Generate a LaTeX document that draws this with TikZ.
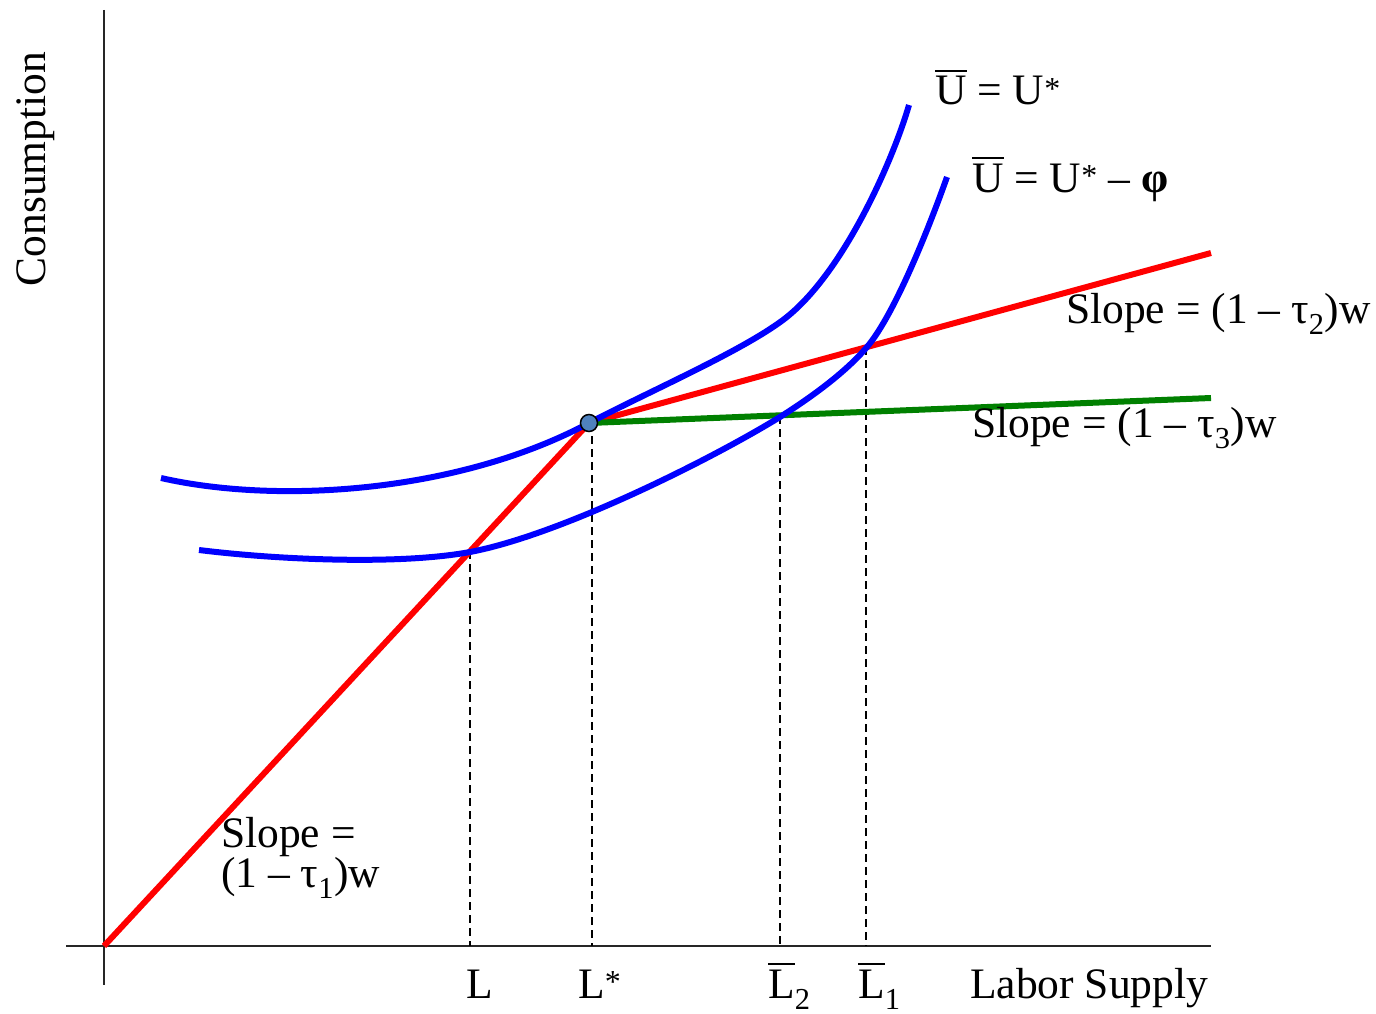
\documentclass[tikz,border=0pt]{standalone}
\usepackage{fontspec}
\setmainfont{Liberation Serif}
\newcommand\ovl[1]{\setbox0=\hbox{#1}\rlap{\rule[0.77em]{\wd0}{0.045em}}\box0\relax}
\newcommand\sstar{\raisebox{0.13em}{\fontsize{32}{32}\selectfont *}}
\begin{document}
\begin{tikzpicture}[x=1pt,y=-1pt,
  lbl/.style={inner sep=0pt,anchor=base west,font=\fontsize{43.5}{48}\selectfont},
  axis/.style={line width=2.2pt,draw=black!85},
  curve/.style={line width=6pt,draw=blue},
  budget/.style={line width=6pt},
  guide/.style={line width=1.8pt,dashed,dash pattern=on 8pt off 5pt}]
\useasboundingbox (0,0) rectangle (1376,1014);
% axes
\coordinate (ytop) at (104,10);
\coordinate (ybot) at (104,985);
\coordinate (xl) at (66,946);
\coordinate (xr) at (1211,946);
\draw[axis] (ytop) -- (ybot);
\draw[axis] (xl) -- (xr);
% key points
\coordinate (O) at (104,946);
\coordinate (E) at (589,423);
\coordinate (R2) at (1211,253);
\coordinate (G3) at (1211,398);
% dashed guides
\coordinate (d1t) at (470,551); \coordinate (d1b) at (470,946);
\coordinate (d2t) at (592,423); \coordinate (d2b) at (592,946);
\coordinate (d3t) at (780,416); \coordinate (d3b) at (780,946);
\coordinate (d4t) at (866,347); \coordinate (d4b) at (866,946);
\draw[guide] (d1t) -- (d1b);
\draw[guide] (d2t) -- (d2b);
\draw[guide] (d3t) -- (d3b);
\draw[guide] (d4t) -- (d4b);
% budget lines
\draw[budget,red] (O) -- (E) -- (R2);
\draw[budget,green!50!black] (E) -- (G3);
% indifference curves
\draw[curve] (161,478) .. controls (280,505) and (460,492) .. (E)
  .. controls (650,391) and (740,352) .. (783,320)
  .. controls (843,275) and (893,160) .. (909,105);
\draw[curve] (199,550) .. controls (280,560) and (400,565) .. (470,552)
  .. controls (560,535) and (710,460) .. (780,417)
  .. controls (810,398) and (845,373) .. (867,347)
  .. controls (895,314) and (930,225) .. (947,177);
% equilibrium point
\node[circle,draw=black,line width=1.5pt,fill={rgb,255:red,79;green,129;blue,189},minimum size=17pt,inner sep=0pt] (pt) at (E) {};
% labels
\node[lbl] (uone) at (935,105) {\ovl{U} = U\sstar};
\node[lbl] (utwo) at (972,192) {\ovl{U} = U\sstar\ – \textbf{φ}};
\node[lbl] (s2) at (1066,323) {Slope = (1 – τ\textsubscript{2})w};
\node[lbl] (s3) at (972,437) {Slope = (1 – τ\textsubscript{3})w};
\node[lbl] (s1a) at (221,847) {Slope =};
\node[lbl] (s1b) at (221,887) {(1 – τ\textsubscript{1})w};
\node[lbl] (lL) at (466,998) {L};
\node[lbl] (lLs) at (578,998) {L\sstar};
\node[lbl] (lL2) at (768,998) {\ovl{L}\textsubscript{2}};
\node[lbl] (lL1) at (858,998) {\ovl{L}\textsubscript{1}};
\node[lbl] (lab) at (970,998) {Labor Supply};
\node[lbl,anchor=base,rotate=90] (cons) at (45,169) {Consumption};
\end{tikzpicture}
\end{document}
